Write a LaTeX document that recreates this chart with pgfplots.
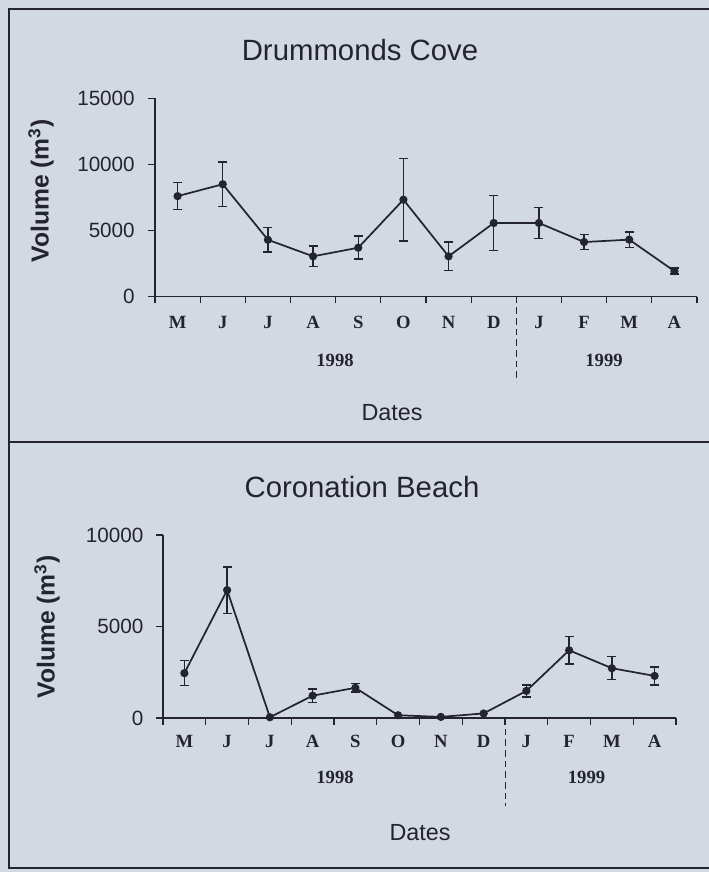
\documentclass[border=0pt]{standalone}
\usepackage{pgfplots}
\pgfplotsset{compat=1.18}
\usepackage{fontspec}
\setmainfont{Liberation Sans}
\newfontfamily\serifbf{Liberation Serif}
\definecolor{bg}{RGB}{211,217,227}
\definecolor{ink}{RGB}{36,36,46}
\pgfplotsset{
  panel/.style={
    scale only axis, anchor=south west, clip=false,
    xmin=-0.5, xmax=11.5, ymin=0,
    axis lines*=left,
    axis line style={ink, line width=1pt},
    xtick={0,...,11},
    xticklabels={M,J,J,A,S,O,N,D,J,F,M,A},
    minor xtick={-0.5,0.5,...,11.5},
    scaled y ticks=false,
    tick align=outside,
    major tick length=5pt, minor tick length=5pt,
    major x tick style={draw=none},
    minor x tick style={ink, line width=0.8pt},
    major y tick style={ink, line width=0.8pt},
    xticklabel style={font=\serifbf\bfseries\fontsize{14}{15}\selectfont, text=ink, anchor=center},
    yticklabel style={font=\fontsize{15.5}{17}\selectfont, text=ink, anchor=east, inner sep=0pt},
  },
  series/.style={
    ink, line width=1.3pt, mark=*, mark size=2.4pt, mark options={solid, fill=ink},
    error bars/.cd, y dir=both, y explicit,
    error bar style={ink, line width=1.1pt},
    error mark=-,
    error mark options={rotate=90, ink, line width=1.1pt, mark size=3.4pt},
  },
}
\begin{document}
\begin{tikzpicture}
\useasboundingbox (0,0) rectangle (531.75pt,654pt);
\clip (0,0) rectangle (531.75pt,654pt);
\fill[bg] (0,0) rectangle (531.75pt,654pt);
\draw[ink, line width=1.2pt] (540pt,647.25pt) -- (6.75pt,647.25pt) -- (6.75pt,3pt) -- (540pt,3pt);
\draw[ink, line width=1.2pt] (6.75pt,322.5pt) -- (540pt,322.5pt);

% ---------------- Drummonds Cove ----------------
\begin{axis}[panel,
  at={(116.25pt,431.5pt)}, width=406.5pt, height=148.8pt,
  ymax=15000, ytick={0,5000,10000,15000}, yticklabels={0,5000,10000,15000},
  xticklabel style={yshift=-14.25pt},
  yticklabel style={xshift=-10pt},
]
\addplot[series] coordinates {
  (0,7600) +- (0,1030)
  (1,8500) +- (0,1670)
  (2,4300) +- (0,930)
  (3,3050) +- (0,780)
  (4,3700) +- (0,870)
  (5,7330) +- (0,3110)
  (6,3050) +- (0,1080)
  (7,5570) +- (0,2080)
  (8,5570) +- (0,1180)
  (9,4130) +- (0,570)
  (10,4310) +- (0,580)
  (11,1930) +- (0,230)
};
\draw[ink, line width=0.7pt, dash pattern=on 5pt off 3pt] (axis cs:7.5,0) -- ([yshift=-64pt]axis cs:7.5,0);
\end{axis}

% ---------------- Coronation Beach ----------------
\begin{axis}[panel,
  at={(122.25pt,115.5pt)}, width=384.75pt, height=137.25pt,
  ymax=10000, ytick={0,5000,10000}, yticklabels={0,5000,10000},
  xticklabel style={yshift=-12.75pt},
  yticklabel style={xshift=-9.5pt},
]
\addplot[series] coordinates {
  (0,2450) +- (0,680)
  (1,6990) +- (0,1270)
  (2,40) +- (0,0)
  (3,1220) +- (0,370)
  (4,1650) +- (0,240)
  (5,150) +- (0,0)
  (6,60) +- (0,0)
  (7,250) +- (0,0)
  (8,1480) +- (0,330)
  (9,3700) +- (0,750)
  (10,2720) +- (0,630)
  (11,2300) +- (0,490)
};
\draw[ink, line width=0.7pt, dash pattern=on 5pt off 3pt] (axis cs:7.5,0) -- ([yshift=-66pt]axis cs:7.5,0);
\end{axis}

% ---------------- texts ----------------
\node[text=ink, font=\fontsize{22}{26}\selectfont] at (270pt,616.5pt) {Drummonds Cove};
\node[text=ink, font=\fontsize{22}{26}\selectfont] at (271.5pt,288.75pt) {Coronation Beach};
\node[text=ink, font=\fontsize{17.5}{20}\selectfont] at (294pt,344.25pt) {Dates};
\node[text=ink, font=\fontsize{17.5}{20}\selectfont] at (315pt,29.25pt) {Dates};
\node[text=ink, font=\bfseries\fontsize{18.5}{21}\selectfont, rotate=90] at (30.75pt,510.75pt) {Volume (m\textsuperscript{3})};
\node[text=ink, font=\bfseries\fontsize{18.5}{21}\selectfont, rotate=90] at (35.25pt,183.75pt) {Volume (m\textsuperscript{3})};
\node[text=ink, font=\serifbf\bfseries\fontsize{14}{16}\selectfont] at (251.25pt,384pt) {1998};
\node[text=ink, font=\serifbf\bfseries\fontsize{14}{16}\selectfont] at (453pt,384pt) {1999};
\node[text=ink, font=\serifbf\bfseries\fontsize{14}{16}\selectfont] at (251.25pt,71.25pt) {1998};
\node[text=ink, font=\serifbf\bfseries\fontsize{14}{16}\selectfont] at (439.9pt,71.25pt) {1999};
\end{tikzpicture}
\end{document}
